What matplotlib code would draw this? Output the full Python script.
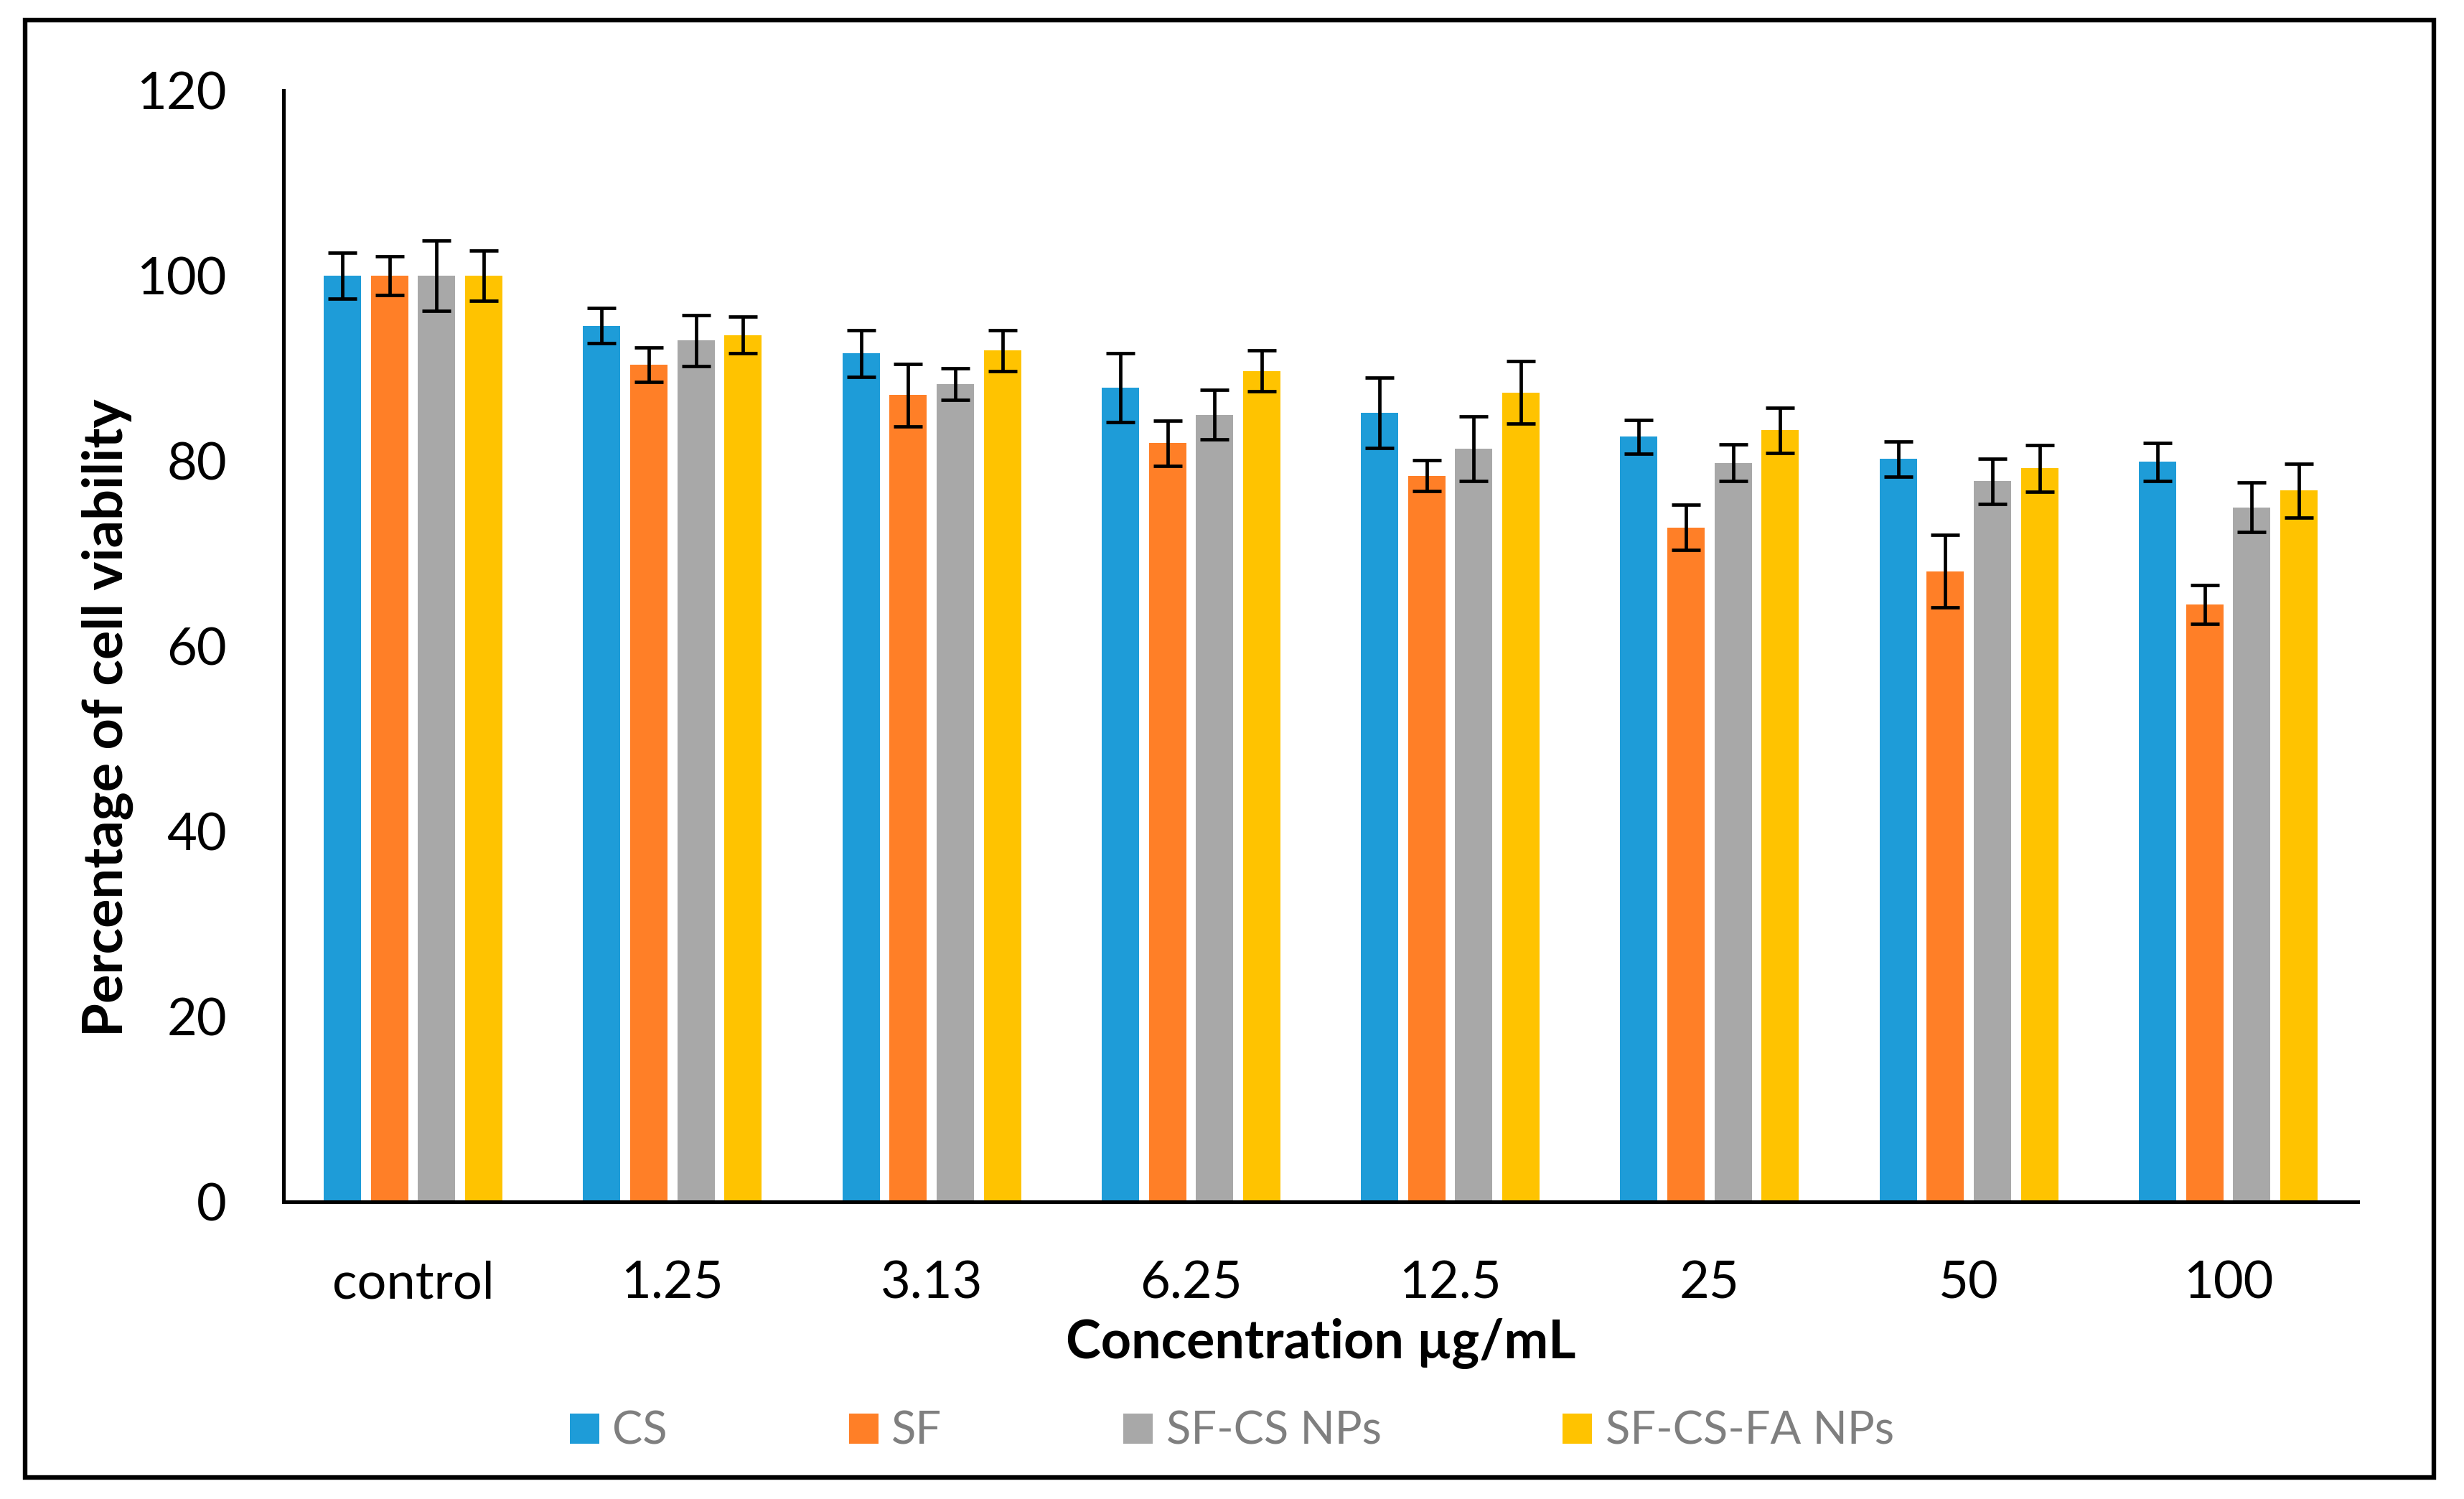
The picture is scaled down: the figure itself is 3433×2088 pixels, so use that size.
import matplotlib
matplotlib.use("Agg")
import matplotlib.pyplot as plt
from matplotlib.patches import Rectangle
import numpy as np

plt.rcParams['font.family'] = ['Lato', 'DejaVu Sans']

categories = ["control", "1.25", "3.13", "6.25", "12.5", "25", "50", "100"]
series_names = ["CS", "SF", "SF-CS NPs", "SF-CS-FA NPs"]

cs_vals = [100.0, 94.6, 91.6, 87.9, 85.2, 82.6, 80.2, 79.9]
cs_err = [2.5, 1.9, 2.5, 3.7, 3.8, 1.8, 1.9, 2.05]
sf_vals = [100.0, 90.4, 87.1, 81.9, 78.4, 72.8, 68.1, 64.5]
sf_err = [2.1, 1.85, 3.4, 2.45, 1.65, 2.45, 3.95, 2.1]
sfcs_vals = [100.0, 93.0, 88.3, 85.0, 81.3, 79.8, 77.8, 75.0]
sfcs_err = [3.8, 2.75, 1.7, 2.7, 3.5, 2.0, 2.45, 2.65]
sfcsfa_vals = [100.0, 93.6, 91.9, 89.7, 87.4, 83.3, 79.2, 76.8]
sfcsfa_err = [2.7, 2.0, 2.2, 2.2, 3.4, 2.45, 2.5, 2.9]

y_ticks = [0, 20, 40, 60, 80, 100, 120]

colors = ["#1E9CD8", "#FF7F27", "#A8A8A8", "#FFC300"]
values = [cs_vals, sf_vals, sfcs_vals, sfcsfa_vals]
errors = [cs_err, sf_err, sfcs_err, sfcsfa_err]

W, H = 3433, 2088
fig = plt.figure(figsize=(W / 100, H / 100), dpi=100)
ax = fig.add_axes([395 / W, (H - 1674) / H, (3285 - 395) / W, (1674 - 126) / H])

x = np.arange(len(categories))
step = 0.1817
width = 0.144
for i, (vals, errs, col, name) in enumerate(zip(values, errors, colors, series_names)):
    pos = x + (i - 1.5) * step
    ax.bar(pos, vals, width=width, color=col, label=name, zorder=2)
    ax.errorbar(pos, vals, yerr=errs, fmt='none', ecolor='black',
                elinewidth=3.4, capsize=14.4, capthick=3.4, zorder=3)

ax.set_xlim(-0.5, len(categories) - 0.5)
ax.set_ylim(0, 120)
ax.set_yticks(y_ticks)
ax.set_yticklabels([str(v) for v in y_ticks])
ax.set_xticks(x)
ax.set_xticklabels(categories)

for s in ['top', 'right']:
    ax.spines[s].set_visible(False)
for s in ['left', 'bottom']:
    ax.spines[s].set_linewidth(3.6)
    ax.spines[s].set_color('black')

ax.tick_params(axis='y', length=0, pad=57, labelsize=52)
ax.tick_params(axis='x', length=0, pad=59, labelsize=52)

ax.set_xlabel("Concentration µg/mL", fontsize=53, fontweight='bold', labelpad=11)
ax.set_ylabel("Percentage of cell viability", fontsize=54.5, fontweight='bold')
ax.yaxis.label.set_va('center')
ax.yaxis.set_label_coords((150 - 395) / 2889, (1674 - 1000) / 1548)

leg = fig.legend(loc='center left', bbox_to_anchor=(794 / W, (H - 1994) / H),
                 ncol=4, frameon=False, fontsize=45.5, borderpad=0, borderaxespad=0,
                 handlelength=0.65, handleheight=0.65, handletextpad=0.29,
                 columnspacing=4.0)
for t in leg.get_texts():
    t.set_color('#7F7F7F')

fig.add_artist(Rectangle((35 / W, 30 / H), (3391 - 35) / W, (2060 - 30) / H,
                         transform=fig.transFigure, fill=False, lw=4.6, ec='black'))

fig.savefig("out.png", dpi=100, facecolor='white')
